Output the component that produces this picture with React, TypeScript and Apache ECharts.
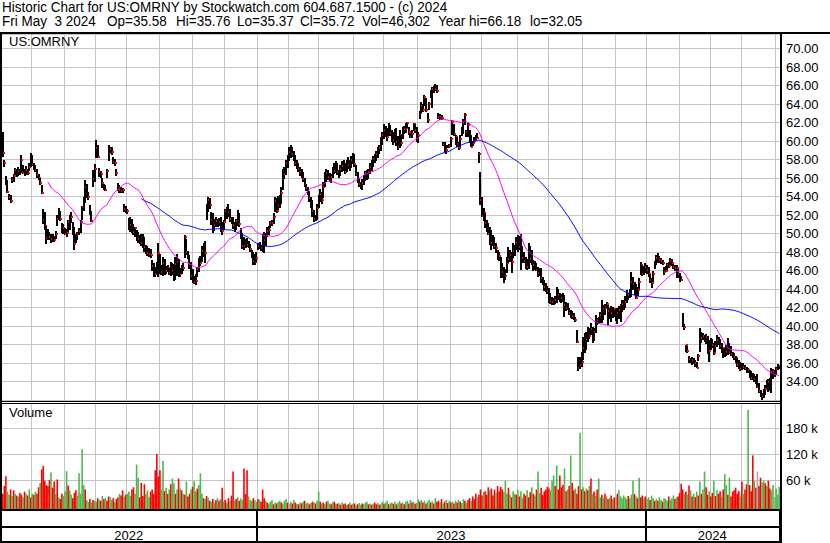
import React, { useEffect, useRef } from "react";
import * as echarts from "echarts";

const FONT = "'Liberation Sans', Arial, Helvetica, sans-serif";

const TITLE = "Historic Chart for US:OMRNY by Stockwatch.com 604.687.1500 - (c) 2024";
const INFO_PARTS = ["Fri May\u00a0\u00a03 2024", "Op=35.58", "Hi=35.76", "Lo=35.37", "Cl=35.72", "Vol=46,302", "Year hi=66.18", "lo=32.05"];
const INFO_X = [2, 107, 176, 237, 300, 362, 438, 530];
const SYMBOL = "US:OMRNY";

const START = "2022-05-04";
const END = "2024-05-03";
const NO_TRADE = [
  "2022-05-30", "2022-06-20", "2022-07-04", "2022-08-05", "2022-08-15", "2022-08-26", "2022-09-05",
  "2022-11-24", "2022-12-26", "2023-01-02", "2023-01-16", "2023-02-20", "2023-04-07", "2023-05-29",
  "2023-06-19", "2023-07-04", "2023-09-04", "2023-11-23", "2023-12-25", "2024-01-01", "2024-01-15",
  "2024-02-19", "2024-03-29",
];

const HI = [
  61.0,58.0,56.2,55.8,54.3,54.2,56.1,56.4,57.1,57.0,
  57.2,57.0,58.5,57.4,57.0,57.3,57.0,57.6,58.7,58.5,
  57.6,57.4,57.0,56.4,56.0,55.2,52.6,52.3,50.8,50.5,
  50.2,50.0,50.0,49.7,50.3,52.0,52.8,52.4,51.1,51.0,
  50.6,50.5,51.5,52.0,52.3,51.2,50.7,50.0,50.2,50.6,
  51.5,53.0,54.0,55.8,55.4,54.5,53.1,52.4,56.9,57.5,
  60.1,59.6,57.1,56.8,56.0,55.4,55.2,57.0,59.6,59.4,
  59.3,58.3,58.1,57.0,55.5,55.2,55.0,54.9,53.2,53.0,
  52.7,51.7,51.8,51.6,51.0,50.7,50.4,50.2,49.8,49.9,
  50.0,49.6,48.8,48.6,48.4,48.3,47.1,46.8,46.4,46.9,
  49.0,47.8,46.6,47.5,47.2,46.5,46.6,46.3,46.9,46.8,
  46.7,47.5,47.8,47.2,46.3,46.6,46.8,49.8,49.4,48.1,
  47.7,46.9,46.2,45.4,45.6,46.4,47.4,47.6,48.6,49.0,
  49.2,53.2,54.0,53.8,52.3,52.2,51.6,51.8,51.6,51.7,
  51.8,51.2,51.5,52.7,52.9,53.2,52.6,51.8,51.8,51.2,
  51.6,52.5,52.2,50.6,50.1,49.6,49.4,49.5,49.2,48.9,
  48.2,48.0,47.8,48.0,49.0,49.1,48.8,50.0,50.2,50.1,
  50.7,50.8,51.4,51.5,52.2,54.0,53.8,54.1,54.2,55.0,
  57.0,57.2,57.9,58.5,59.3,59.6,59.4,58.9,58.5,58.0,
  57.6,57.2,57.0,56.6,56.0,55.3,55.0,54.6,54.0,53.6,
  52.5,52.0,53.2,54.2,54.8,54.5,55.6,56.6,57.0,56.9,
  56.5,56.4,57.2,57.6,57.8,57.6,56.9,57.4,57.8,58.0,
  57.6,57.9,58.3,58.0,58.4,58.7,58.6,57.4,56.6,56.0,
  55.6,55.9,56.3,56.8,56.9,57.0,57.6,57.9,58.4,58.6,
  58.9,59.4,59.6,60.4,61.0,61.8,61.6,61.4,61.9,61.7,
  61.2,61.0,61.3,61.4,60.5,61.2,60.7,61.5,61.6,61.9,
  62.1,61.5,60.9,61.2,62.0,61.8,61.5,61.0,63.2,64.2,
  64.0,65.0,64.6,63.0,64.2,65.5,65.8,66.0,66.18,66.1,
  63.0,62.9,62.8,59.9,59.9,59.6,59.6,59.7,60.4,62.3,
  61.8,60.6,60.4,59.9,60.6,61.5,62.4,63.0,61.2,62.0,
  61.2,60.6,60.0,60.4,60.6,60.9,58.8,56.6,54.0,52.8,
  52.2,51.5,51.1,50.7,50.4,49.8,49.6,49.0,48.2,48.0,
  47.5,46.8,46.4,46.2,47.5,48.5,48.2,48.0,49.0,48.8,
  49.6,49.8,49.7,50.0,48.6,48.0,47.5,47.2,49.0,48.6,
  48.2,47.1,47.0,46.8,46.4,46.3,46.3,45.3,45.0,44.6,
  44.3,44.1,43.6,43.1,43.0,43.2,44.2,44.0,43.6,43.5,
  43.6,43.4,42.6,42.5,42.0,41.7,41.6,41.4,41.0,39.6,
  36.7,36.7,37.2,38.8,39.2,39.4,39.9,39.8,40.3,39.9,
  39.8,41.2,40.9,41.0,41.5,42.8,42.3,42.4,42.6,42.3,
  42.0,42.2,42.1,42.0,41.8,42.0,42.2,42.4,42.8,42.8,
  43.2,43.9,43.6,44.0,45.8,45.3,44.8,44.5,44.2,45.2,
  46.9,46.6,46.5,46.8,46.6,46.4,45.6,45.2,45.9,47.0,
  47.7,47.9,47.6,47.4,47.1,46.4,46.5,46.8,46.9,47.4,
  47.2,46.7,46.6,46.6,46.2,45.7,45.4,41.4,40.2,38.0,
  37.8,36.8,36.5,36.6,36.5,36.3,36.1,37.0,39.8,39.4,
  39.2,39.0,39.1,38.9,38.5,38.7,38.6,38.2,38.4,39.0,
  38.8,38.6,38.2,37.7,37.6,38.0,38.7,38.2,37.8,37.2,
  37.1,36.8,36.5,36.3,36.1,36.0,36.0,35.8,35.6,35.5,
  35.2,35.1,34.9,34.8,34.6,34.8,33.8,33.1,32.8,33.2,
  33.6,34.2,34.3,34.4,35.5,35.3,35.2,35.6,35.9,35.76,
];

const LO = [
  58.3,57.2,55.2,54.4,53.6,53.3,55.5,55.6,56.3,56.1,
  56.2,56.3,56.5,56.4,56.2,56.3,56.3,56.8,57.2,57.3,
  56.9,56.6,56.0,55.8,55.2,54.3,51.0,50.4,48.9,49.3,
  49.3,49.0,49.1,49.1,49.4,50.8,51.5,51.3,50.1,50.0,
  49.8,49.6,50.2,50.4,51.1,49.8,48.2,49.0,49.3,49.8,
  50.1,51.5,52.4,53.3,53.8,53.6,52.0,51.2,55.0,55.6,
  58.2,58.2,56.1,56.0,54.9,54.7,54.6,56.0,57.8,58.7,
  58.5,57.5,57.3,56.2,54.6,54.4,54.4,54.4,52.3,52.2,
  52.1,50.4,50.2,50.1,49.8,49.6,49.2,49.0,48.9,48.6,
  48.4,48.0,47.8,47.6,47.5,47.4,46.0,45.3,45.3,45.6,
  45.3,45.6,45.5,45.4,45.5,45.6,45.8,45.5,45.4,45.5,
  44.9,45.0,45.4,45.3,45.3,45.6,45.9,47.4,47.7,47.2,
  46.2,45.0,44.7,44.5,44.4,45.3,45.8,46.5,46.9,47.5,
  46.8,51.5,52.3,52.6,50.9,50.1,50.3,50.7,50.7,50.8,
  50.2,49.8,50.4,51.4,51.6,51.8,51.2,51.0,50.5,50.2,
  50.4,50.8,50.7,49.4,48.3,48.2,48.4,48.5,48.4,48.0,
  47.3,46.6,46.6,46.9,48.2,48.3,48.1,48.0,47.9,48.6,
  49.6,49.8,50.6,50.8,51.0,52.3,52.2,52.5,52.8,53.2,
  54.7,55.9,56.3,57.1,57.8,58.2,58.3,57.8,57.3,57.0,
  56.6,56.2,56.0,55.6,55.0,54.6,54.2,53.4,52.8,51.8,
  51.2,51.3,51.5,52.8,53.4,53.2,53.8,55.0,55.6,55.8,
  55.6,55.5,56.0,56.4,56.5,56.3,56.0,56.2,56.6,56.8,
  56.4,56.7,57.0,56.8,57.1,57.5,57.2,56.2,55.5,55.0,
  54.8,54.7,55.2,55.7,55.8,55.9,56.4,56.8,57.2,57.6,
  57.8,58.2,58.6,58.9,59.6,60.2,60.4,60.0,60.5,60.5,
  59.9,59.6,59.8,59.5,59.0,59.2,59.5,60.2,60.8,60.9,
  61.4,60.6,60.3,60.3,61.1,60.9,59.9,59.8,62.4,63.0,
  63.1,63.8,63.1,62.0,63.4,64.6,63.6,65.2,65.4,65.2,
  62.4,62.3,62.3,59.5,58.7,58.6,59.2,59.2,59.4,60.6,
  60.5,59.6,59.3,59.0,59.4,60.5,60.8,61.7,60.4,60.4,
  59.8,59.4,59.5,59.8,60.1,60.3,57.6,53.1,51.8,51.4,
  50.6,50.2,49.8,48.8,48.2,48.6,48.3,47.9,47.1,47.0,
  45.2,45.2,44.6,45.0,45.7,46.8,46.9,45.7,47.4,47.6,
  48.2,48.0,48.2,46.1,46.8,46.8,46.2,46.1,46.2,46.8,
  46.6,46.0,46.1,45.9,45.3,45.4,44.6,44.4,43.8,43.7,
  43.5,42.5,42.4,42.3,42.3,42.4,42.5,42.8,42.6,42.5,
  42.6,41.0,41.6,41.7,41.2,40.9,40.8,40.6,40.4,38.2,
  35.1,35.3,35.6,36.3,37.1,37.4,38.3,38.6,39.0,38.2,
  38.4,39.2,40.1,40.2,40.3,40.3,40.6,41.2,42.0,40.1,
  40.8,40.4,40.9,41.0,40.5,40.2,40.8,40.4,41.5,41.7,
  42.0,42.5,42.8,43.0,43.1,43.9,43.4,42.9,43.2,44.0,
  45.5,45.4,45.5,45.7,45.6,45.3,44.6,44.1,44.8,46.2,
  46.6,46.8,46.8,46.7,46.6,45.5,45.8,46.1,46.3,46.6,
  46.5,46.2,46.0,45.2,45.2,44.8,44.9,39.9,39.6,37.2,
  37.1,36.0,36.0,35.8,35.9,35.6,35.5,36.2,37.2,38.2,
  38.5,38.3,38.1,37.0,36.1,37.4,37.6,36.9,37.2,37.7,
  37.9,37.5,37.1,36.5,36.6,36.8,36.9,37.0,36.8,36.5,
  36.3,36.0,35.6,35.4,35.1,35.2,35.3,35.2,34.9,34.9,
  34.4,34.2,34.2,34.0,33.7,33.3,32.8,32.3,32.05,32.2,
  32.5,33.3,32.9,33.0,32.8,34.3,34.5,34.7,35.2,35.37,
];

const CL = [
  58.7,57.6,55.5,54.5,53.9,53.5,55.8,56.2,56.9,56.4,
  56.8,56.6,57.9,56.5,56.5,56.9,56.5,57.2,58.3,57.5,
  57.0,56.9,56.3,56.0,55.5,54.4,51.5,50.8,49.5,49.8,
  49.6,49.4,49.5,49.3,50.0,51.6,51.7,51.6,50.5,50.6,
  50.0,50.1,51.2,51.5,51.8,50.1,48.9,49.6,50.0,50.3,
  51.2,52.9,53.6,55.0,54.2,53.9,52.3,51.3,55.9,57.0,
  59.2,58.3,56.7,56.4,55.5,54.9,54.7,56.8,58.7,59.1,
  58.8,57.7,57.6,56.5,55.1,54.7,54.6,54.7,52.6,52.5,
  52.4,50.8,50.9,50.5,50.2,50.6,49.5,49.4,49.1,49.0,
  48.8,48.5,48.2,47.9,47.8,47.7,46.5,45.8,45.6,46.5,
  47.9,46.2,45.8,46.8,46.0,45.9,46.3,45.7,46.6,45.9,
  45.3,46.7,46.9,45.8,45.6,46.2,46.3,49.6,48.0,47.4,
  46.7,45.4,45.2,44.8,44.9,46.2,47.1,46.8,48.1,48.6,
  47.9,52.8,53.6,53.1,51.5,50.6,50.9,51.3,51.0,51.2,
  50.6,50.3,51.2,52.4,52.0,52.3,51.6,51.4,50.9,50.6,
  51.3,52.0,51.0,49.8,48.7,48.6,48.9,48.8,48.7,48.3,
  47.6,47.0,46.9,47.4,48.6,48.7,48.4,49.4,49.3,49.8,
  50.3,50.4,51.1,51.1,51.8,53.5,52.4,53.0,53.4,54.4,
  56.2,56.4,57.6,58.0,58.8,59.0,58.6,58.1,57.6,57.3,
  57.0,56.6,56.3,55.9,55.2,54.9,54.5,53.8,53.1,52.4,
  51.6,51.6,52.8,53.8,54.3,53.6,55.0,56.2,56.5,56.1,
  56.0,56.1,56.8,56.8,57.5,56.6,56.3,57.0,57.3,57.1,
  56.7,57.6,57.4,57.2,58.0,57.8,57.5,56.4,55.8,55.3,
  55.1,55.5,55.9,56.5,56.1,56.7,57.2,57.5,58.1,57.9,
  58.6,59.0,59.2,60.0,60.6,61.2,60.8,60.4,61.5,60.9,
  60.3,60.1,60.9,59.9,59.4,60.6,59.8,61.1,61.3,61.4,
  61.9,61.0,60.4,60.8,61.8,61.2,60.0,60.6,63.0,63.8,
  63.4,64.8,63.3,62.3,64.0,65.2,65.6,65.5,65.6,65.4,
  62.6,62.6,62.5,59.7,58.8,59.0,59.4,59.5,60.2,62.1,
  60.8,60.4,59.7,59.2,60.2,61.4,61.9,62.8,61.0,61.7,
  60.2,59.4,59.8,60.0,60.3,60.3,58.6,53.6,51.9,52.2,
  51.1,50.7,49.9,49.4,49.0,49.2,48.6,48.4,47.4,47.6,
  46.4,45.8,45.9,45.4,46.8,47.2,47.7,46.9,48.1,48.3,
  49.0,48.9,48.5,48.1,47.3,47.0,46.8,46.4,47.6,47.2,
  47.0,46.6,46.3,46.1,45.7,45.9,45.2,44.9,44.2,43.9,
  43.8,42.8,42.7,42.6,42.9,42.8,43.1,43.3,42.9,43.0,
  42.9,42.3,41.9,41.8,41.4,41.0,41.1,40.8,40.6,38.3,
  35.5,35.8,36.1,37.6,38.0,38.6,39.2,38.9,39.7,38.7,
  39.3,40.5,40.6,40.4,41.2,41.9,41.8,42.0,42.4,41.6,
  41.5,41.4,41.6,41.8,41.3,41.4,41.7,41.8,42.4,42.5,
  42.6,43.4,43.4,43.6,44.8,44.5,43.9,43.0,43.9,44.8,
  46.6,45.6,46.0,46.4,46.1,45.6,45.0,44.6,45.6,46.8,
  47.4,47.2,47.1,47.0,46.8,45.8,46.0,46.6,46.5,47.0,
  46.8,46.4,46.3,46.3,45.6,45.2,45.0,39.9,39.9,37.9,
  37.3,36.4,36.1,36.3,36.2,36.0,35.5,36.8,38.3,38.7,
  38.9,38.6,38.8,38.2,37.3,38.1,37.9,37.1,37.8,38.5,
  38.3,37.8,37.4,37.6,36.9,37.2,37.8,37.2,37.0,36.8,
  36.6,36.5,35.8,35.7,35.4,35.6,35.6,35.5,35.2,35.2,
  34.6,34.4,34.5,34.3,34.0,33.4,33.0,32.6,32.4,32.7,
  33.2,33.7,33.9,34.0,35.0,35.1,34.8,35.3,35.6,35.72,
];

// volume in thousands of shares
const VOL_K = [
  30,48,70,35,28,40,25,38,30,26,
  24,32,28,22,35,30,26,40,22,30,
  28,35,30,45,55,86,94,60,50,48,
  62,79,44,58,30,63,22,18,30,25,
  35,82,49,38,28,20,32,38,25,77,
  30,132,50,40,15,12,18,10,16,14,
  12,20,16,14,25,18,20,14,24,22,
  16,20,12,18,22,30,26,38,24,28,
  30,35,25,40,45,30,97,67,22,55,
  25,52,30,38,22,35,40,30,84,121,
  70,84,40,105,36,44,30,40,52,65,
  55,30,40,65,42,38,30,28,58,24,
  30,40,46,59,36,42,50,77,30,20,
  18,25,20,14,12,18,10,16,20,14,
  18,44,12,16,10,20,14,26,81,15,
  18,22,14,20,16,88,30,84,24,16,
  14,20,16,12,18,16,12,40,20,14,
  10,8,12,16,6,10,8,12,14,10,
  8,14,18,10,6,12,8,16,10,7,
  6,10,8,12,14,8,10,6,9,12,
  10,8,14,35,12,8,10,6,12,14,
  8,6,10,12,8,7,9,5,10,6,
  8,4,6,10,5,7,8,4,6,9,
  5,8,6,10,12,6,8,5,7,10,
  6,9,5,8,12,7,10,14,6,8,
  10,7,12,6,9,14,8,10,6,12,
  14,8,16,10,12,7,9,18,12,16,
  10,14,8,12,16,10,13,8,20,12,
  14,10,18,8,12,16,9,14,10,12,
  8,14,10,16,12,9,18,14,10,16,
  20,14,24,18,30,22,28,40,26,34,
  36,28,45,38,42,26,40,32,48,36,
  46,40,34,60,30,44,28,22,36,30,
  28,40,24,36,20,30,26,38,22,34,
  45,30,26,40,81,32,44,28,36,40,
  46,42,38,60,72,48,95,40,72,45,
  50,88,36,40,48,118,55,38,42,30,
  48,170,40,45,36,42,38,48,65,30,
  35,25,40,65,22,28,20,30,24,18,
  20,26,18,22,23,30,38,24,20,26,
  22,18,25,20,28,60,30,24,20,67,
  22,26,20,24,18,22,16,26,20,14,
  18,14,22,16,12,20,18,14,24,16,
  20,26,18,22,24,32,53,40,30,35,
  28,49,38,24,30,22,35,26,58,30,
  40,81,45,28,36,24,32,60,25,38,
  30,36,24,40,75,50,28,67,24,35,
  38,44,30,36,24,58,30,40,52,222,
  50,36,118,60,44,81,48,67,56,60,
  54,48,60,42,38,50,23,42,28,46.302,
];

// r = down (red), g = up (green), n = unchanged (grey)
const VOL_DIR = [
  "rrrggrgrgr", "grrgrgrgrg", "rgrrgrrrrr", "rgrrgrgrrg", "ggrggrrrgg",
  "gggrggrgrg", "grgrgrgrrg", "grgrrgrrgr", "gggrrgggrr", "rrgggrrrrr",
  "rrggrgrgrg", "grgrgrgrgr", "rgrggrgggr", "grgrgrgrgr", "grgrgrgrrg",
  "rgrggrrrgg", "grggrgrrrg", "rgggrgrggr", "gggrngrgrg", "rgrgrggrgr",
  "grggrgrgrg", "grgrgrgrgr", "rgrgrgrgrg", "grgggrgrgr", "rgrggrggrg",
  "grgrggrgrg", "grgrgrggrg", "rgrggrgrgr", "rgrgrgrgrg", "rgrgrggrgr",
  "rgrrrgrrrg", "rrrgrrrgrr", "rrgggrgrgg", "rgrggrrgrr", "grgrggrrrr",
  "rrgggrgrrr", "rgrgrgrrgr", "rgrgrgrgrg", "rgrggrgrgr", "grgrnrgggg",
  "ggrgggrgrg", "rrgrggrggr", "grggrgggrg", "ggrgrrrrgr", "grgrgrgrgr",
  "ggrrgrrgrg", "rrgrggrgrr", "rrrrgrgrrg", "rrrgrnrrgg", "rgrrggnggg",
].join("");

const PRICE_MIN = 32;
const PRICE_MAX = 71.57;
const PRICE_STEP = 2;
const VOL_MIN = -4.8;
const VOL_MAX = 235.7;
const VOL_TICKS = [60, 120, 180];
const MA_FAST = 30;
const MA_SLOW = 90;

const GRID_LINE = "#c4c4c4";
const RED = "#ff0000";
const GREEN = "#4cb84c";
const GREY = "#a8a8a8";

function tradingDates(): string[] {
  const skip = new Set(NO_TRADE);
  const out: string[] = [];
  const d = new Date(START + "T00:00:00Z");
  const end = new Date(END + "T00:00:00Z");
  while (d <= end) {
    const wd = d.getUTCDay();
    const s = d.toISOString().slice(0, 10);
    if (wd !== 0 && wd !== 6 && !skip.has(s)) out.push(s);
    d.setUTCDate(d.getUTCDate() + 1);
  }
  return out;
}

function sma(src: number[], n: number): (number | string)[] {
  return src.map((_, i) => {
    if (i < n - 1) return "-";
    let s = 0;
    for (let k = i - n + 1; k <= i; k++) s += src[k];
    return +(s / n).toFixed(3);
  });
}

function buildOption() {
  const N = CL.length;
  let dates = tradingDates();
  if (dates.length > N) dates = dates.slice(dates.length - N);
  while (dates.length < N) dates.unshift("");

  const monthStart = dates.map((d, i) => i > 0 && d.slice(0, 7) !== dates[i - 1].slice(0, 7));
  const yearStart = dates.map((d, i) => i > 0 && d.slice(0, 4) !== dates[i - 1].slice(0, 4));
  const yearFirst: Record<string, number> = {};
  const yearLast: Record<string, number> = {};
  dates.forEach((d, i) => {
    const y = d.slice(0, 4);
    if (!(y in yearFirst)) yearFirst[y] = i;
    yearLast[y] = i;
  });
  const yearMid = new Set(Object.keys(yearFirst).map((y) => Math.floor((yearFirst[y] + yearLast[y]) / 2)));

  const baseX = (gridIndex: number) => ({
    type: "category",
    gridIndex,
    data: dates,
    boundaryGap: true,
    axisLine: { show: false },
    axisTick: { show: false },
    axisLabel: { show: false },
    splitLine: {
      show: true,
      interval: (i: number) => monthStart[i],
      lineStyle: { color: GRID_LINE, width: 1 },
    },
  });

  const dirIdx = VOL_DIR.split("").map((c) => (c === "r" ? 0 : c === "g" ? 1 : 2));
  const volColors = [RED, GREEN, GREY];

  const textStyle = (text: string, size = 13) => ({
    text,
    fontSize: size,
    fontFamily: FONT,
    fill: "#000",
    verticalAlign: "top",
  });
  const bar = (x: number, y: number, w: number, h: number) => ({
    type: "rect",
    z: 100,
    silent: true,
    shape: { x, y, width: w, height: h },
    style: { fill: "#000" },
  });
  const headerText = (text: string, x: number, y: number) => ({
    type: "text",
    x,
    y,
    scaleX: 0.964,
    z: 100,
    silent: true,
    style: textStyle(text, 14),
  });

  return {
    animation: false,
    backgroundColor: "#ffffff",
    textStyle: { fontFamily: FONT },
    grid: [
      { left: 2, top: 34, width: 778, height: 366 },
      { left: 2, top: 404, width: 778, height: 105 },
      { left: 2, top: 509, width: 778, height: 33 },
    ],
    xAxis: [
      baseX(0),
      baseX(1),
      {
        ...baseX(2),
        splitLine: {
          show: true,
          interval: (i: number) => yearStart[i],
          lineStyle: { color: "#000", width: 2 },
        },
        axisLabel: {
          show: true,
          inside: true,
          margin: 0,
          interval: (i: number) => yearMid.has(i),
          formatter: (v: string) => v.slice(0, 4),
          fontSize: 13,
          fontFamily: FONT,
          color: "#000",
        },
      },
    ],
    yAxis: [
      {
        type: "value",
        gridIndex: 0,
        position: "right",
        min: PRICE_MIN,
        max: PRICE_MAX,
        interval: PRICE_STEP,
        axisLine: { show: false },
        axisTick: { show: false },
        axisLabel: {
          margin: 6,
          fontSize: 13,
          fontFamily: FONT,
          color: "#000",
          showMinLabel: false,
          showMaxLabel: false,
          formatter: (v: number) => v.toFixed(2),
        },
        splitLine: { show: true, lineStyle: { color: GRID_LINE, width: 1 } },
      },
      { type: "value", gridIndex: 1, min: VOL_MIN, max: VOL_MAX, show: false, splitLine: { show: false } },
      { type: "value", gridIndex: 2, min: 0, max: 1, show: false, splitLine: { show: false } },
    ],
    series: [
      {
        type: "custom",
        name: "price",
        xAxisIndex: 0,
        yAxisIndex: 0,
        z: 3,
        clip: true,
        encode: { x: 0, y: [1, 2, 3] },
        data: CL.map((c, i) => [i, HI[i], LO[i], c]),
        renderItem: (_p: any, api: any) => {
          const i = api.value(0);
          const h = api.coord([i, api.value(1)]);
          const l = api.coord([i, api.value(2)]);
          const c = api.coord([i, api.value(3)]);
          const x = Math.round(h[0]);
          const top = Math.round(h[1]);
          const hh = Math.max(1, Math.round(l[1]) - top);
          return {
            type: "group",
            children: [
              { type: "rect", shape: { x: x - 1, y: top, width: 2, height: hh }, style: { fill: "#000" } },
              { type: "rect", shape: { x: x, y: Math.round(c[1]) - 1, width: 2, height: 2 }, style: { fill: RED } },
            ],
          };
        },
      },
      {
        type: "line",
        name: "ma30",
        xAxisIndex: 0,
        yAxisIndex: 0,
        z: 4,
        showSymbol: false,
        symbol: "none",
        data: sma(CL, MA_FAST),
        lineStyle: { color: "#ff00ff", width: 1 },
        itemStyle: { color: "#ff00ff" },
      },
      {
        type: "line",
        name: "ma90",
        xAxisIndex: 0,
        yAxisIndex: 0,
        z: 4,
        showSymbol: false,
        symbol: "none",
        data: sma(CL, MA_SLOW),
        lineStyle: { color: "#0000ff", width: 1 },
        itemStyle: { color: "#0000ff" },
      },
      {
        type: "custom",
        name: "volume",
        xAxisIndex: 1,
        yAxisIndex: 1,
        z: 3,
        clip: true,
        encode: { x: 0, y: 1 },
        data: VOL_K.map((v, i) => [i, v, dirIdx[i]]),
        renderItem: (_p: any, api: any) => {
          const i = api.value(0);
          const t = api.coord([i, api.value(1)]);
          const b = api.coord([i, VOL_MIN]);
          return {
            type: "rect",
            shape: { x: t[0] - 0.8, y: t[1], width: 1.6, height: b[1] - t[1] },
            style: { fill: volColors[api.value(2)] },
          };
        },
        markLine: {
          silent: true,
          z: 1,
          symbol: ["none", "none"],
          animation: false,
          lineStyle: { color: GRID_LINE, width: 1, type: "solid" },
          label: {
            show: true,
            position: "end",
            distance: 6,
            formatter: (p: any) => `${p.value} k`,
            color: "#000",
            fontSize: 13,
            fontFamily: FONT,
          },
          emphasis: { disabled: true },
          data: VOL_TICKS.map((v) => ({ yAxis: v })),
        },
      },
    ],
    graphic: [
      headerText(TITLE, 2, 0),
      ...INFO_PARTS.map((t, k) => headerText(t, INFO_X[k], 14)),
      { type: "text", x: 9, y: 35, z: 100, silent: true, style: textStyle(SYMBOL) },
      { type: "text", x: 9, y: 406, z: 100, silent: true, style: textStyle("Volume") },
      bar(0, 32, 830, 2),
      bar(0, 32, 2, 511),
      bar(780, 32, 2, 511),
      bar(0, 401, 782, 1),
      bar(0, 403, 782, 1),
      bar(0, 509, 782, 2),
      bar(0, 526, 782, 2),
      bar(0, 541, 782, 2),
    ],
  };
}

export default function App() {
  const ref = useRef<HTMLDivElement>(null);
  useEffect(() => {
    if (!ref.current) return;
    const chart = echarts.init(ref.current, undefined, { renderer: "svg" });
    chart.setOption(buildOption() as any);
    return () => chart.dispose();
  }, []);
  return (
    <div
      ref={ref}
      style={{ position: "absolute", left: 0, top: 0, width: 830, height: 543, background: "#fff" }}
    />
  );
}
